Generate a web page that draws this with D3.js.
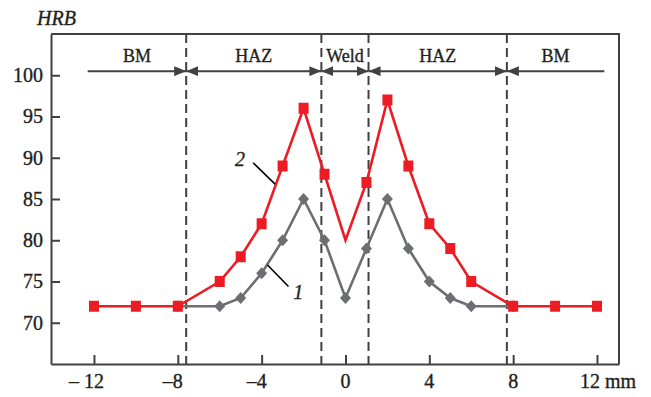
<!DOCTYPE html>
<html>
<head>
<meta charset="utf-8">
<script src="https://cdn.jsdelivr.net/npm/d3@7"></script>
<style>
  html, body { margin: 0; padding: 0; background: #fff; }
  svg { display: block; font-family: "Liberation Serif", "Times New Roman", serif; }
  svg text { stroke: #231f20; stroke-width: 0.35px; }
</style>
</head>
<body>
<div id="chart"></div>
<script>
// distance from weld centre, mm
const pos1 = [-8, -6, -5, -4, -3, -2, -1, 0, 1, 2, 3, 4, 5, 6, 8];
const hrb1 = [72, 72, 73, 76, 80, 85, 80, 73, 79, 85, 79, 75, 73, 72, 72];
const pos2 = [-12, -10, -8, -6, -5, -4, -3, -2, -1, 0, 1, 2, 3, 4, 5, 6, 8, 10, 12];
const hrb2 = [72, 72, 72, 75, 78, 82, 89, 96, 88, 80, 87, 97, 89, 82, 79, 75, 72, 72, 72];

const xTicks = [-12, -8, -4, 0, 4, 8, 12];
const xTickLabels = ['– 12', '–8', '–4', '0', '4', '8', '12 mm'];
const yTicks = [70, 75, 80, 85, 90, 95, 100];

// zone borders and zone names
const zoneEdges = [-12.3, -7.6, -1.15, 1.1, 7.7, 12.35];
const zoneNames = ['BM', 'HAZ', 'Weld', 'HAZ', 'BM'];

const width = 651, height = 397;
const margin = { top: 34, right: 32, bottom: 33, left: 51 };

const red = '#ed1c24', grey = '#6d6e71', ink = '#414042', textInk = '#231f20';
const serif = '"Liberation Serif", "Times New Roman", serif';

const svg = d3.select('#chart').append('svg')
  .attr('width', width).attr('height', height);

const x = d3.scaleLinear().domain([-14.05, 13.05]).range([margin.left, width - margin.right]);
const y = d3.scaleLinear().domain([65, 105]).range([height - margin.bottom, margin.top]);

// arrow heads
const defs = svg.append('defs');
defs.append('marker')
  .attr('id', 'head')
  .attr('markerUnits', 'userSpaceOnUse')
  .attr('viewBox', '0 0 12 10')
  .attr('refX', 12).attr('refY', 5)
  .attr('markerWidth', 12).attr('markerHeight', 10)
  .attr('orient', 'auto-start-reverse')
  .append('path').attr('d', 'M0,0L12,5L0,10Z').attr('fill', ink);

// axes
const yAxis = d3.axisLeft(y).tickValues(yTicks).tickSizeInner(-9).tickSizeOuter(0).tickPadding(8);
const xAxis = d3.axisBottom(x).tickValues(xTicks).tickSizeInner(-9).tickSizeOuter(0).tickFormat('');

const gy = svg.append('g').attr('transform', `translate(${margin.left},0)`).call(yAxis);
gy.attr('font-family', serif).attr('font-size', 20);
gy.selectAll('text').attr('fill', textInk);

const gx = svg.append('g').attr('transform', `translate(0,${height - margin.bottom})`).call(xAxis);

[gx, gy].forEach(g => {
  g.select('.domain').attr('stroke', ink).attr('stroke-width', 2);
  g.selectAll('.tick line').attr('stroke', ink).attr('stroke-width', 2);
});

// top and right frame
svg.append('path')
  .attr('d', `M${x.range()[0]},${y.range()[1]}H${x.range()[1]}V${y.range()[0]}`)
  .attr('fill', 'none').attr('stroke', ink).attr('stroke-width', 2);

// x tick labels, number centred on the tick, minus sign hanging left
xTicks.forEach((t, i) => {
  const lab = xTickLabels[i];
  const m = lab.match(/\d+/);
  const txt = svg.append('text')
    .attr('y', height - 9)
    .attr('font-size', 20)
    .attr('fill', textInk)
    .style('white-space', 'pre')
    .text(lab);
  const node = txt.node();
  const pre = m.index > 0 ? node.getSubStringLength(0, m.index) : 0;
  const num = node.getSubStringLength(m.index, m[0].length);
  const shift = t === 12 ? 7 : 0;
  txt.attr('x', x(t) - pre - num / 2 - shift);
});

// axis title
svg.append('text')
  .attr('x', 37).attr('y', 25)
  .attr('font-size', 20).attr('font-style', 'italic')
  .attr('fill', textInk)
  .text('HRB');

// zone borders
svg.selectAll('.zone-edge')
  .data(zoneEdges.slice(1, -1))
  .enter().append('line')
  .attr('class', 'zone-edge')
  .attr('x1', d => x(d)).attr('x2', d => x(d))
  .attr('y1', y.range()[1]).attr('y2', y.range()[0])
  .attr('stroke', ink).attr('stroke-width', 2)
  .attr('stroke-dasharray', '9,5');

// zone arrows
const arrowY = y(100.5);
zoneNames.forEach((name, i) => {
  const a = zoneEdges[i], b = zoneEdges[i + 1];
  svg.append('line')
    .attr('x1', x(a)).attr('x2', x(b))
    .attr('y1', arrowY).attr('y2', arrowY)
    .attr('stroke', ink).attr('stroke-width', 2)
    .attr('marker-start', i > 0 ? 'url(#head)' : null)
    .attr('marker-end', i < zoneNames.length - 1 ? 'url(#head)' : null);
  svg.append('text')
    .attr('x', x((a + b) / 2)).attr('y', y(101.6))
    .attr('text-anchor', 'middle')
    .attr('font-size', 18)
    .attr('fill', textInk)
    .text(name);
});

const line = d3.line().x(d => x(d.x)).y(d => y(d.v));

// curve 1
const s1 = pos1.map((p, i) => ({ x: p, v: hrb1[i] }));
svg.append('path').datum(s1)
  .attr('d', line).attr('fill', 'none')
  .attr('stroke', grey).attr('stroke-width', 2.6);
svg.selectAll('.m1').data(s1).enter().append('path')
  .attr('class', 'm1')
  .attr('transform', d => `translate(${x(d.x)},${y(d.v)})`)
  .attr('d', 'M0,-6L5.5,0L0,6L-5.5,0Z')
  .attr('fill', grey);

// curve 2
const s2 = pos2.map((p, i) => ({ x: p, v: hrb2[i] }));
svg.append('path').datum(s2)
  .attr('d', line).attr('fill', 'none')
  .attr('stroke', red).attr('stroke-width', 2.6);
// weld centre point has no marker
svg.selectAll('.m2').data(s2.filter(d => d.x !== 0)).enter().append('rect')
  .attr('class', 'm2')
  .attr('x', d => x(d.x) - 5).attr('y', d => y(d.v) - 5.5)
  .attr('width', 10).attr('height', 11)
  .attr('fill', red);

// curve labels with leaders
const callouts = [
  { text: '2', tx: -5.03, tv: 89.0, from: [-4.41, 89.4], to: [-3.36, 86.8] },
  { text: '1', tx: -2.25, tv: 72.9, from: [-3.72, 77.0], to: [-2.72, 74.4] }
];
callouts.forEach(c => {
  svg.append('line')
    .attr('x1', x(c.from[0])).attr('y1', y(c.from[1]))
    .attr('x2', x(c.to[0])).attr('y2', y(c.to[1]))
    .attr('stroke', '#000').attr('stroke-width', 1.6);
  svg.append('text')
    .attr('x', x(c.tx)).attr('y', y(c.tv))
    .attr('text-anchor', 'middle')
    .attr('font-size', 20).attr('font-style', 'italic')
    .attr('fill', textInk)
    .text(c.text);
});
</script>
</body>
</html>
